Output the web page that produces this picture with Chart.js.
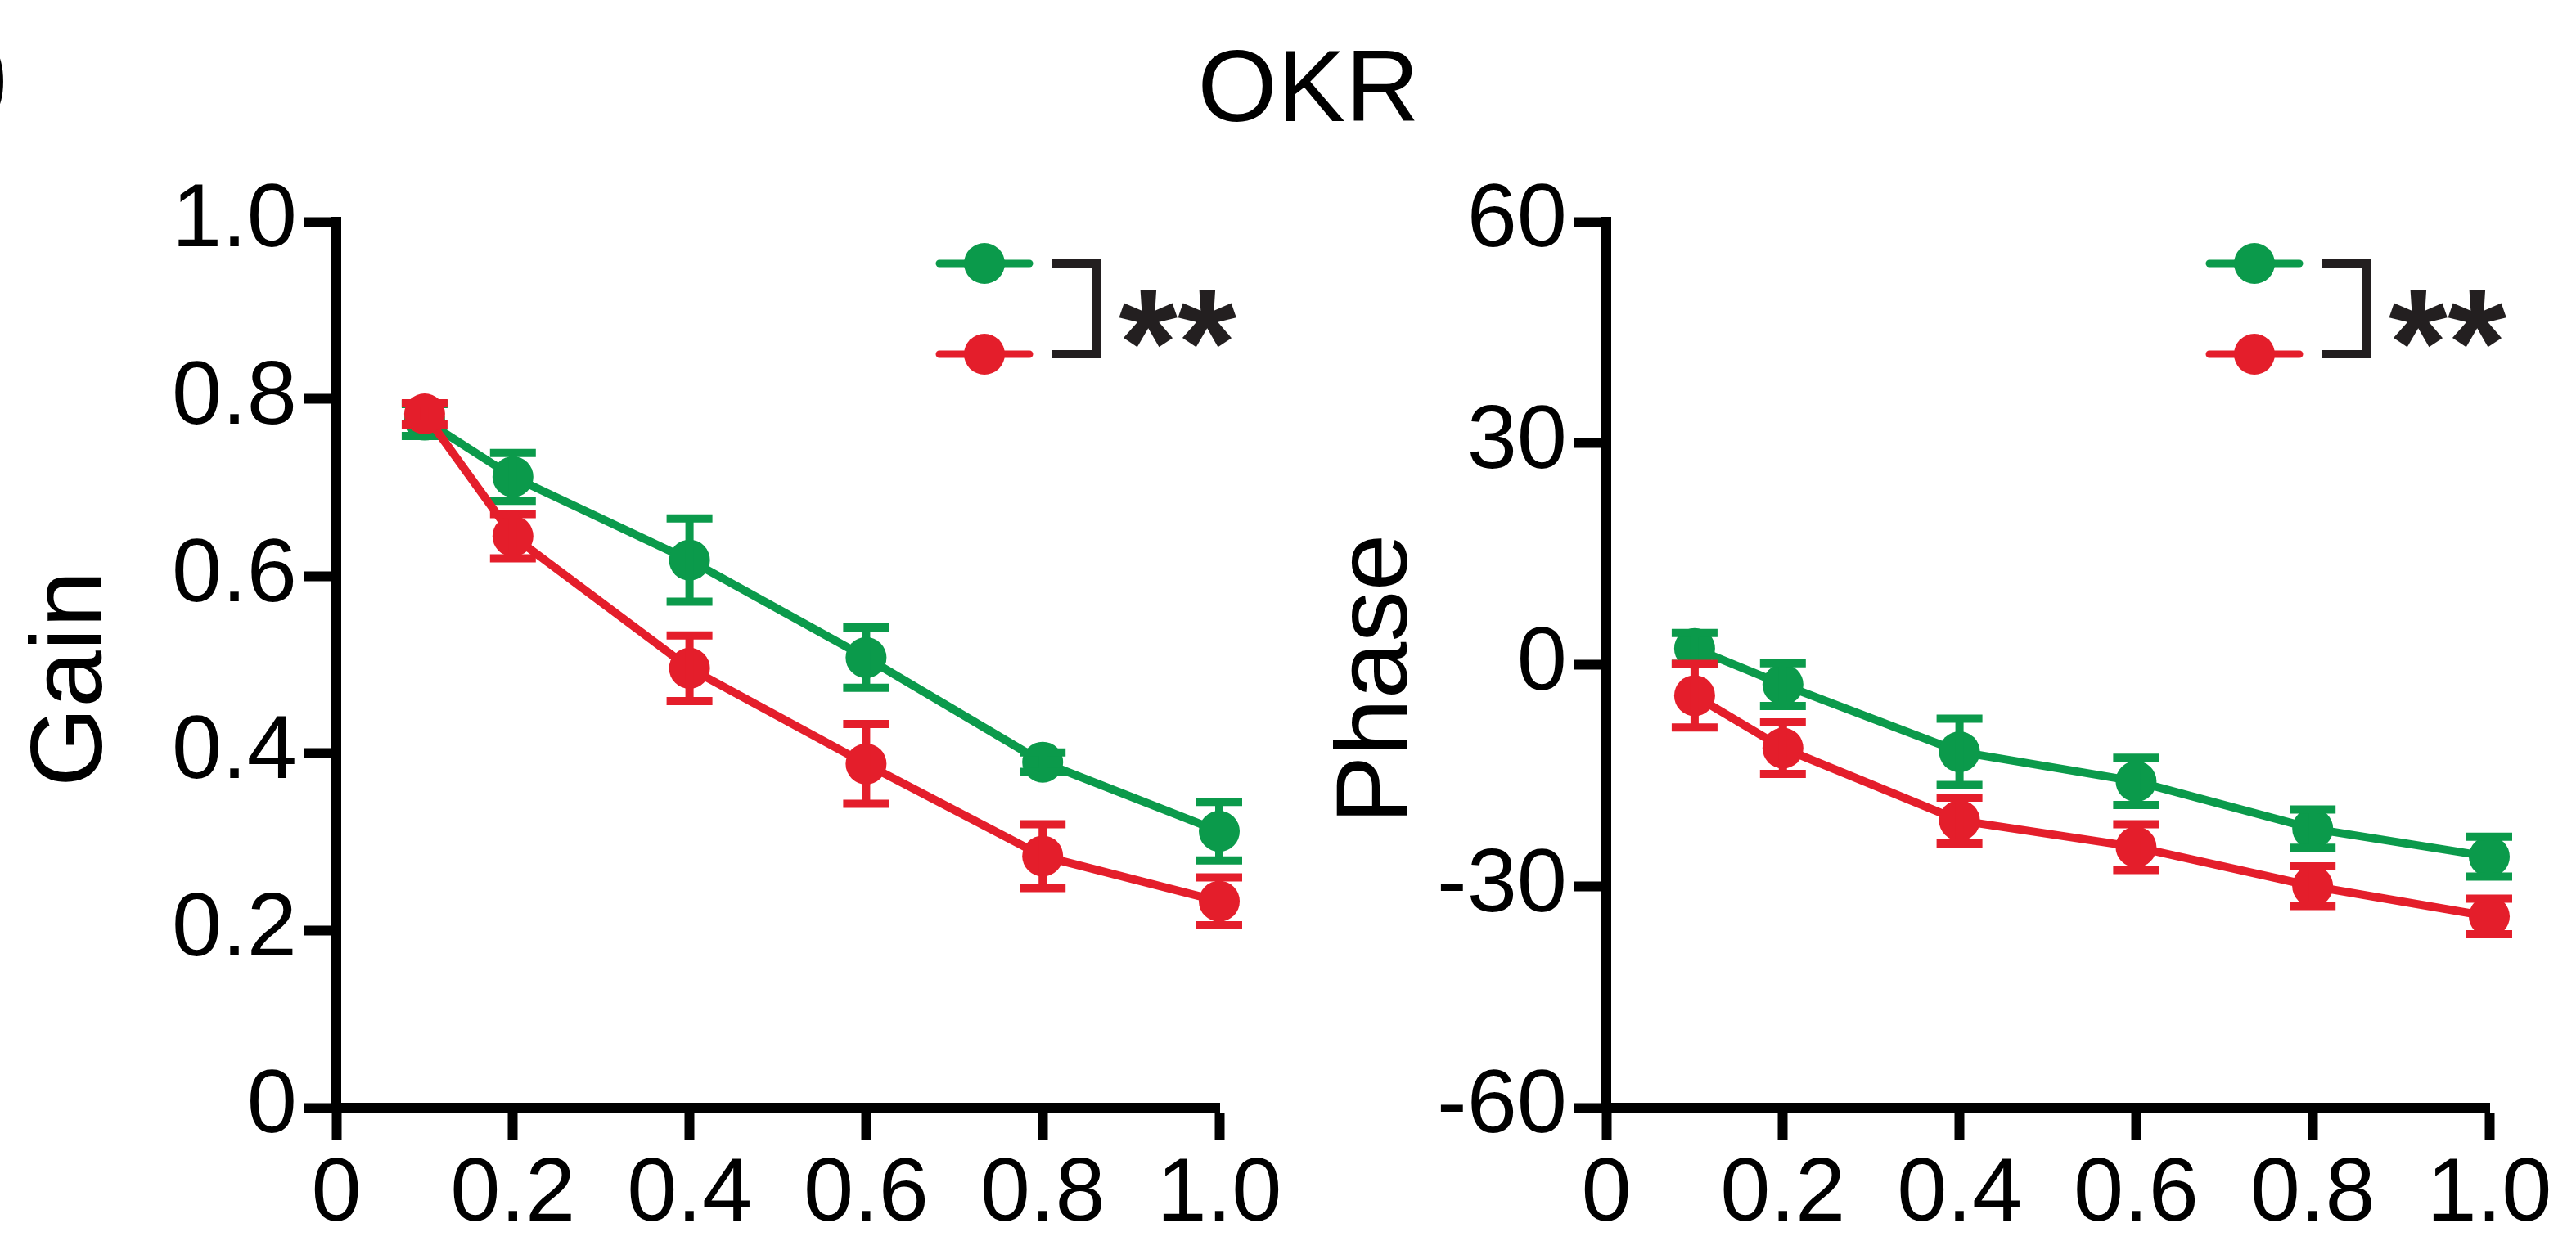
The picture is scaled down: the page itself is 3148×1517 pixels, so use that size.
<!DOCTYPE html>
<html>
<head>
<meta charset="utf-8">
<script src="https://cdn.jsdelivr.net/npm/chart.js@4.4.1/dist/chart.umd.min.js"></script>
<style>
  html, body { margin: 0; padding: 0; background: #fff; }
  #wrap { position: relative; width: 3148px; height: 1517px; overflow: hidden; font-family: "Liberation Sans", Arial, sans-serif; }
  .box { position: absolute; top: 0; width: 1574px; height: 1517px; }
  #title { position: absolute; left: 1099px; top: 42px; width: 1000px; text-align: center; font-size: 125px; line-height: 1; color: #000; }
  #panel { position: absolute; left: -110px; top: -16px; font-size: 200px; font-weight: bold; line-height: 1; color: #000; }
</style>
</head>
<body>
<div id="wrap">
  <div id="panel">b</div>
  <div id="title">OKR</div>
  <div class="box" style="left:0"><canvas id="gainChart" width="1574" height="1517"></canvas></div>
  <div class="box" style="left:1574px"><canvas id="phaseChart" width="1574" height="1517"></canvas></div>
</div>
<script>
const freqs = [0.1, 0.2, 0.4, 0.6, 0.8, 1.0];
const freqTicks = [0, 0.2, 0.4, 0.6, 0.8, 1.0];
const gainTicks = [0, 0.2, 0.4, 0.6, 0.8, 1.0];
const phaseTicks = [-60, -30, 0, 30, 60];

const gainGreen = [0.776, 0.712, 0.618, 0.508, 0.39, 0.312];
const gainGreenErr = [0.018, 0.027, 0.047, 0.034, 0.011, 0.033];
const gainRed = [0.783, 0.645, 0.496, 0.388, 0.284, 0.233];
const gainRedErr = [0.012, 0.025, 0.037, 0.045, 0.036, 0.027];

const phaseGreen = [2.2, -2.7, -11.8, -15.8, -22.2, -26.0];
const phaseGreenErr = [2.1, 2.9, 4.5, 3.2, 2.6, 2.7];
const phaseRed = [-4.2, -11.3, -21.1, -24.7, -30.0, -34.1];
const phaseRedErr = [4.3, 3.5, 3.1, 3.1, 2.7, 2.4];

const green = '#0b9a4b';
const red = '#e41e2b';
const ink = '#231f20';

const FONT = '"Liberation Sans", Arial, sans-serif';

const errorBars = {
    id: 'errorBars',
    afterDatasetDraw(chart, args)
    {
        const ds = chart.data.datasets[args.index];
        if (!ds.errors) return;
        const ctx = chart.ctx;
        const xs = chart.scales.x, ys = chart.scales.y;
        ctx.save();
        ctx.strokeStyle = ds.borderColor;
        ctx.lineWidth = 10;
        ds.data.forEach((p, i) => {
            const e = ds.errors[i];
            const x = xs.getPixelForValue(p.x);
            const top = ys.getPixelForValue(p.y + e);
            const bot = ys.getPixelForValue(p.y - e);
            ctx.beginPath();
            ctx.moveTo(x, top); ctx.lineTo(x, bot);
            ctx.moveTo(x - 28, top); ctx.lineTo(x + 28, top);
            ctx.moveTo(x - 28, bot); ctx.lineTo(x + 28, bot);
            ctx.stroke();
        });
        ctx.restore();
    }
};

// green/red key with the significance bracket, top right of each panel
const sigLegend = {
    id: 'sigLegend',
    afterDraw(chart)
    {
        const { ctx, chartArea } = chart;
        const r = chartArea.right, t = chartArea.top;
        const rows = [[green, t + 51], [red, t + 162]];
        ctx.save();
        rows.forEach(([c, y]) => {
            ctx.strokeStyle = c;
            ctx.fillStyle = c;
            ctx.lineWidth = 9;
            ctx.lineCap = 'round';
            ctx.beginPath();
            ctx.moveTo(r - 342, y); ctx.lineTo(r - 232, y);
            ctx.stroke();
            ctx.beginPath();
            ctx.arc(r - 287, y, 25, 0, Math.PI * 2);
            ctx.fill();
        });
        ctx.strokeStyle = ink;
        ctx.lineWidth = 10;
        ctx.lineCap = 'butt';
        ctx.lineJoin = 'miter';
        ctx.beginPath();
        ctx.moveTo(r - 204, rows[0][1]);
        ctx.lineTo(r - 150, rows[0][1]);
        ctx.lineTo(r - 150, rows[1][1]);
        ctx.lineTo(r - 204, rows[1][1]);
        ctx.stroke();
        ctx.fillStyle = ink;
        ctx.font = 'bold 185px ' + FONT;
        ctx.textBaseline = 'alphabetic';
        ctx.fillText('**', r - 123, t + 212);
        ctx.restore();
    }
};

const fmtDec = v => v === 0 ? '0' : v.toFixed(1);
const fmtInt = v => String(v);

function axisStyle()
{
    return {
        grid: { drawOnChartArea: false, drawTicks: true, tickLength: 40, tickWidth: 12, tickColor: '#000' },
        border: { display: true, width: 12, color: '#000' }
    };
}

function makeChart(id, series, yMin, yMax, yTicks, yFmt, yTitle, yWidth, titlePad, rightPad)
{
    const ctx = document.getElementById(id).getContext('2d');
    return new Chart(ctx, {
        type: 'line',
        data: {
            datasets: series.map(s => ({
                data: freqs.map((f, i) => ({ x: f, y: s.values[i] })),
                errors: s.errors,
                borderColor: s.color,
                backgroundColor: s.color,
                borderWidth: 10,
                pointRadius: 25,
                pointHoverRadius: 25,
                pointBorderWidth: 0,
                pointBackgroundColor: s.color,
                tension: 0,
                clip: false
            }))
        },
        options: {
            responsive: false,
            animation: false,
            layout: { padding: { left: 0, top: 271, right: rightPad, bottom: 0 } },
            plugins: { legend: { display: false }, tooltip: { enabled: false } },
            scales: {
                x: {
                    type: 'linear', min: 0, max: 1,
                    afterBuildTicks: sc => { sc.ticks = freqTicks.map(v => ({ value: v })); },
                    afterFit: sc => { sc.height = 1517 - 1354; },
                    ticks: { callback: fmtDec, color: '#000', padding: 2, maxRotation: 0, autoSkip: false, font: { family: FONT, size: 110 } },
                    ...axisStyle()
                },
                y: {
                    type: 'linear', min: yMin, max: yMax,
                    afterBuildTicks: sc => { sc.ticks = yTicks.map(v => ({ value: v })); },
                    afterFit: sc => { sc.width = yWidth; },
                    ticks: { callback: yFmt, color: '#000', padding: 8, autoSkip: false, font: { family: FONT, size: 110 } },
                    // trailing space nudges the rotated title down to sit like the original
                    title: { display: true, text: yTitle + ' ', color: '#000', padding: { top: titlePad, bottom: 0 }, font: { family: FONT, size: 125 } },
                    ...axisStyle()
                }
            }
        },
        plugins: [errorBars, sigLegend]
    });
}

// red listed first so it is painted on top where the two overlap
makeChart('gainChart', [
    { values: gainRed, errors: gainRedErr, color: red },
    { values: gainGreen, errors: gainGreenErr, color: green }
], 0, 1, gainTicks, fmtDec, 'Gain', 411, 15, 84);

makeChart('phaseChart', [
    { values: phaseRed, errors: phaseRedErr, color: red },
    { values: phaseGreen, errors: phaseGreenErr, color: green }
], -60, 60, phaseTicks, fmtInt, 'Phase', 389, 36, 106);
</script>
</body>
</html>
